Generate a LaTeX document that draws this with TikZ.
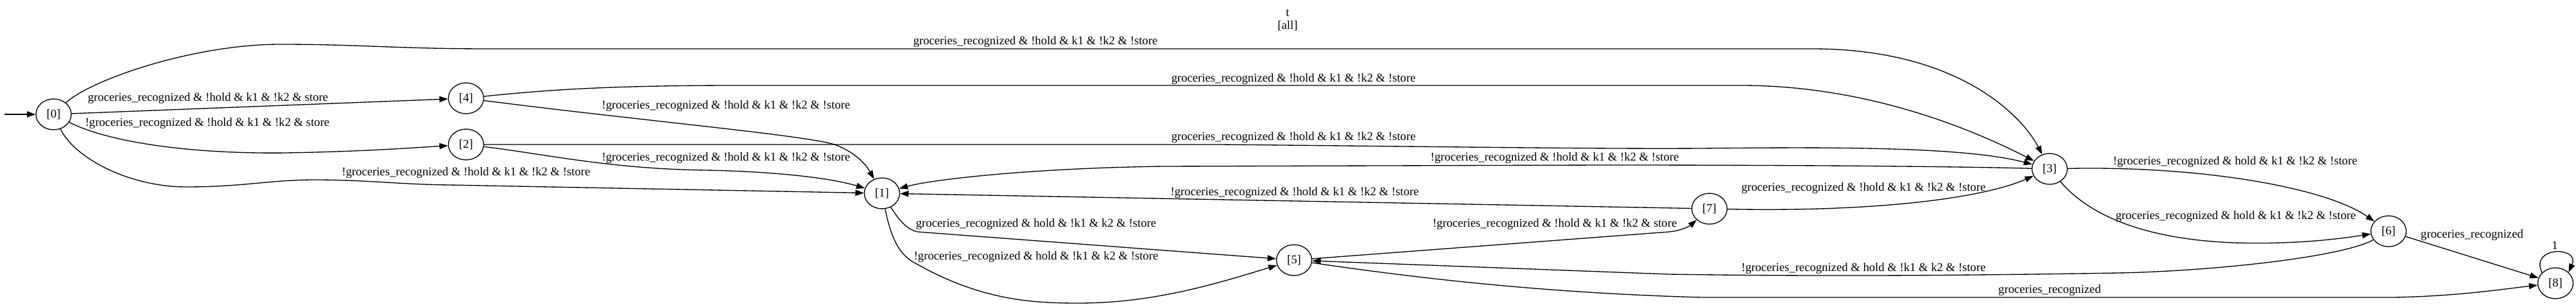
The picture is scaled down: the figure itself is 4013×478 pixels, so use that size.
\documentclass[tikz,border=0pt]{standalone}
\usepackage{fontspec}
\setmainfont{Liberation Serif}
\usetikzlibrary{arrows.meta,shapes.geometric}
\begin{document}
\begin{tikzpicture}[x=0.75pt,y=-0.75pt,
  st/.style={draw,ellipse,line width=1pt,minimum width=41.25pt,minimum height=36pt,inner sep=0pt,font=\fontsize{14pt}{16pt}\selectfont},
  lbl/.style={inner sep=0pt,font=\fontsize{14pt}{16pt}\selectfont},
  tr/.style={line width=1pt,-{Triangle[length=10pt,width=7pt]}}]
\useasboundingbox (0,0) rectangle (4013,478);

% states
\node[st] (n0) at (83.5,178) {[0]};
\node[st] (n4) at (726,153) {[4]};
\node[st] (n2) at (726,225) {[2]};
\node[st] (n1) at (1374,301) {[1]};
\node[st] (n5) at (2016,405) {[5]};
\node[st] (n7) at (2663,325) {[7]};
\node[st] (n3) at (3193,263) {[3]};
\node[st] (n6) at (3721,360) {[6]};
\node[st] (n8) at (3981,441) {[8]};

% title
\node[lbl,align=center,font=\fontsize{14pt}{15pt}\selectfont] (title) at (2006,31) {t\\{[all]}};

% initial arrow
\coordinate (init) at (7,178);
\draw[tr] (init) -- (n0);

% edges
\draw[tr] (n0) .. controls (140,125) and (300,69) .. (437,69) .. controls (560,69) and (620,76) .. (760,76) -- (2823,76) .. controls (3050,76) and (3150,180) .. (n3);
\draw[tr] (n0) -- (n4);
\draw[tr] (n0) .. controls (170,222) and (300,240) .. (446,238) .. controls (560,236) and (630,231) .. (n2);
\draw[tr] (n0) .. controls (115,245) and (200,291) .. (290,291) .. controls (380,291) and (420,280) .. (491,280) .. controls (570,280) and (620,287) .. (700,288) -- (n1);

\draw[tr] (n4) .. controls (850,140) and (950,133) .. (1150,133) -- (2712,133) .. controls (2900,133) and (3060,195) .. (n3);
\draw[tr] (n4) .. controls (1000,188) and (1250,210) .. (1300,225) .. controls (1335,238) and (1350,258) .. (n1);

\draw[tr] (n2) -- (1900,225) .. controls (2300,229) and (2500,232) .. (2650,231) .. controls (2850,229) and (3060,228) .. (n3);
\draw[tr] (n2) .. controls (850,240) and (950,263) .. (1100,265) .. controls (1200,267) and (1290,276) .. (n1);

\draw[tr] (n3) .. controls (3000,258) and (2700,257) .. (2500,257) -- (1812,259) .. controls (1600,262) and (1450,280) .. (n1);
\draw[tr] (n7) -- (n1);
\draw[tr] (n7) .. controls (2900,330) and (3080,312) .. (n3);

\draw[tr] (n1) .. controls (1400,342) and (1413,358) .. (1430,361) -- (n5);
\draw[tr] (n1) .. controls (1390,380) and (1405,400) .. (1430,412) .. controls (1530,468) and (1610,472) .. (1680,472) .. controls (1800,472) and (1900,440) .. (n5);

\draw[tr] (n5) -- (2600,361) .. controls (2620,359) and (2632,352) .. (n7);
\draw[tr] (n6) .. controls (3650,400) and (3450,422) .. (3300,425) .. controls (3000,430) and (2800,430) .. (2600,427) -- (n5);
\draw[tr] (n5) .. controls (2200,432) and (2400,456) .. (2650,463) -- (3730,463) .. controls (3830,461) and (3900,450) .. (n8);

\draw[tr] (n3) .. controls (3420,258) and (3620,290) .. (n6);
\draw[tr] (n3) .. controls (3250,330) and (3330,372) .. (3480,378) .. controls (3580,381) and (3650,371) .. (n6);
\draw[tr] (n6) -- (n8);
\draw[tr] (n8.142) .. controls (3940,383) and (4020,383) .. (n8.40);

% labels
\node[lbl] (l03) at (1613,65) {groceries\_recognized \& !hold \& k1 \& !k2 \& !store};
\node[lbl] (l04) at (324,153) {groceries\_recognized \& !hold \& k1 \& !k2 \& store};
\node[lbl] (l02) at (323,192) {!groceries\_recognized \& !hold \& k1 \& !k2 \& store};
\node[lbl] (l01) at (726,269) {!groceries\_recognized \& !hold \& k1 \& !k2 \& !store};
\node[lbl] (l43) at (2015,123) {groceries\_recognized \& !hold \& k1 \& !k2 \& !store};
\node[lbl] (l41) at (1131,165) {!groceries\_recognized \& !hold \& k1 \& !k2 \& !store};
\node[lbl] (l23) at (2015,214) {groceries\_recognized \& !hold \& k1 \& !k2 \& !store};
\node[lbl] (l21) at (1131,246) {!groceries\_recognized \& !hold \& k1 \& !k2 \& !store};
\node[lbl] (l31) at (2422,246) {!groceries\_recognized \& !hold \& k1 \& !k2 \& !store};
\node[lbl] (l71) at (2017,300) {!groceries\_recognized \& !hold \& k1 \& !k2 \& !store};
\node[lbl] (l15a) at (1614,349) {groceries\_recognized \& hold \& !k1 \& k2 \& !store};
\node[lbl] (l15b) at (1614,400) {!groceries\_recognized \& hold \& !k1 \& k2 \& !store};
\node[lbl] (l57) at (2422,349) {!groceries\_recognized \& !hold \& k1 \& !k2 \& store};
\node[lbl] (l73) at (2903,293) {groceries\_recognized \& !hold \& k1 \& !k2 \& !store};
\node[lbl] (l65) at (2903,418) {!groceries\_recognized \& hold \& !k1 \& k2 \& !store};
\node[lbl] (l58) at (3193,452) {groceries\_recognized};
\node[lbl] (l36a) at (3482,252) {!groceries\_recognized \& hold \& k1 \& !k2 \& !store};
\node[lbl] (l36b) at (3483,337) {groceries\_recognized \& hold \& k1 \& !k2 \& !store};
\node[lbl] (l68) at (3851,366) {groceries\_recognized};
\node[lbl] (l88) at (3980,382) {1};
\end{tikzpicture}
\end{document}
